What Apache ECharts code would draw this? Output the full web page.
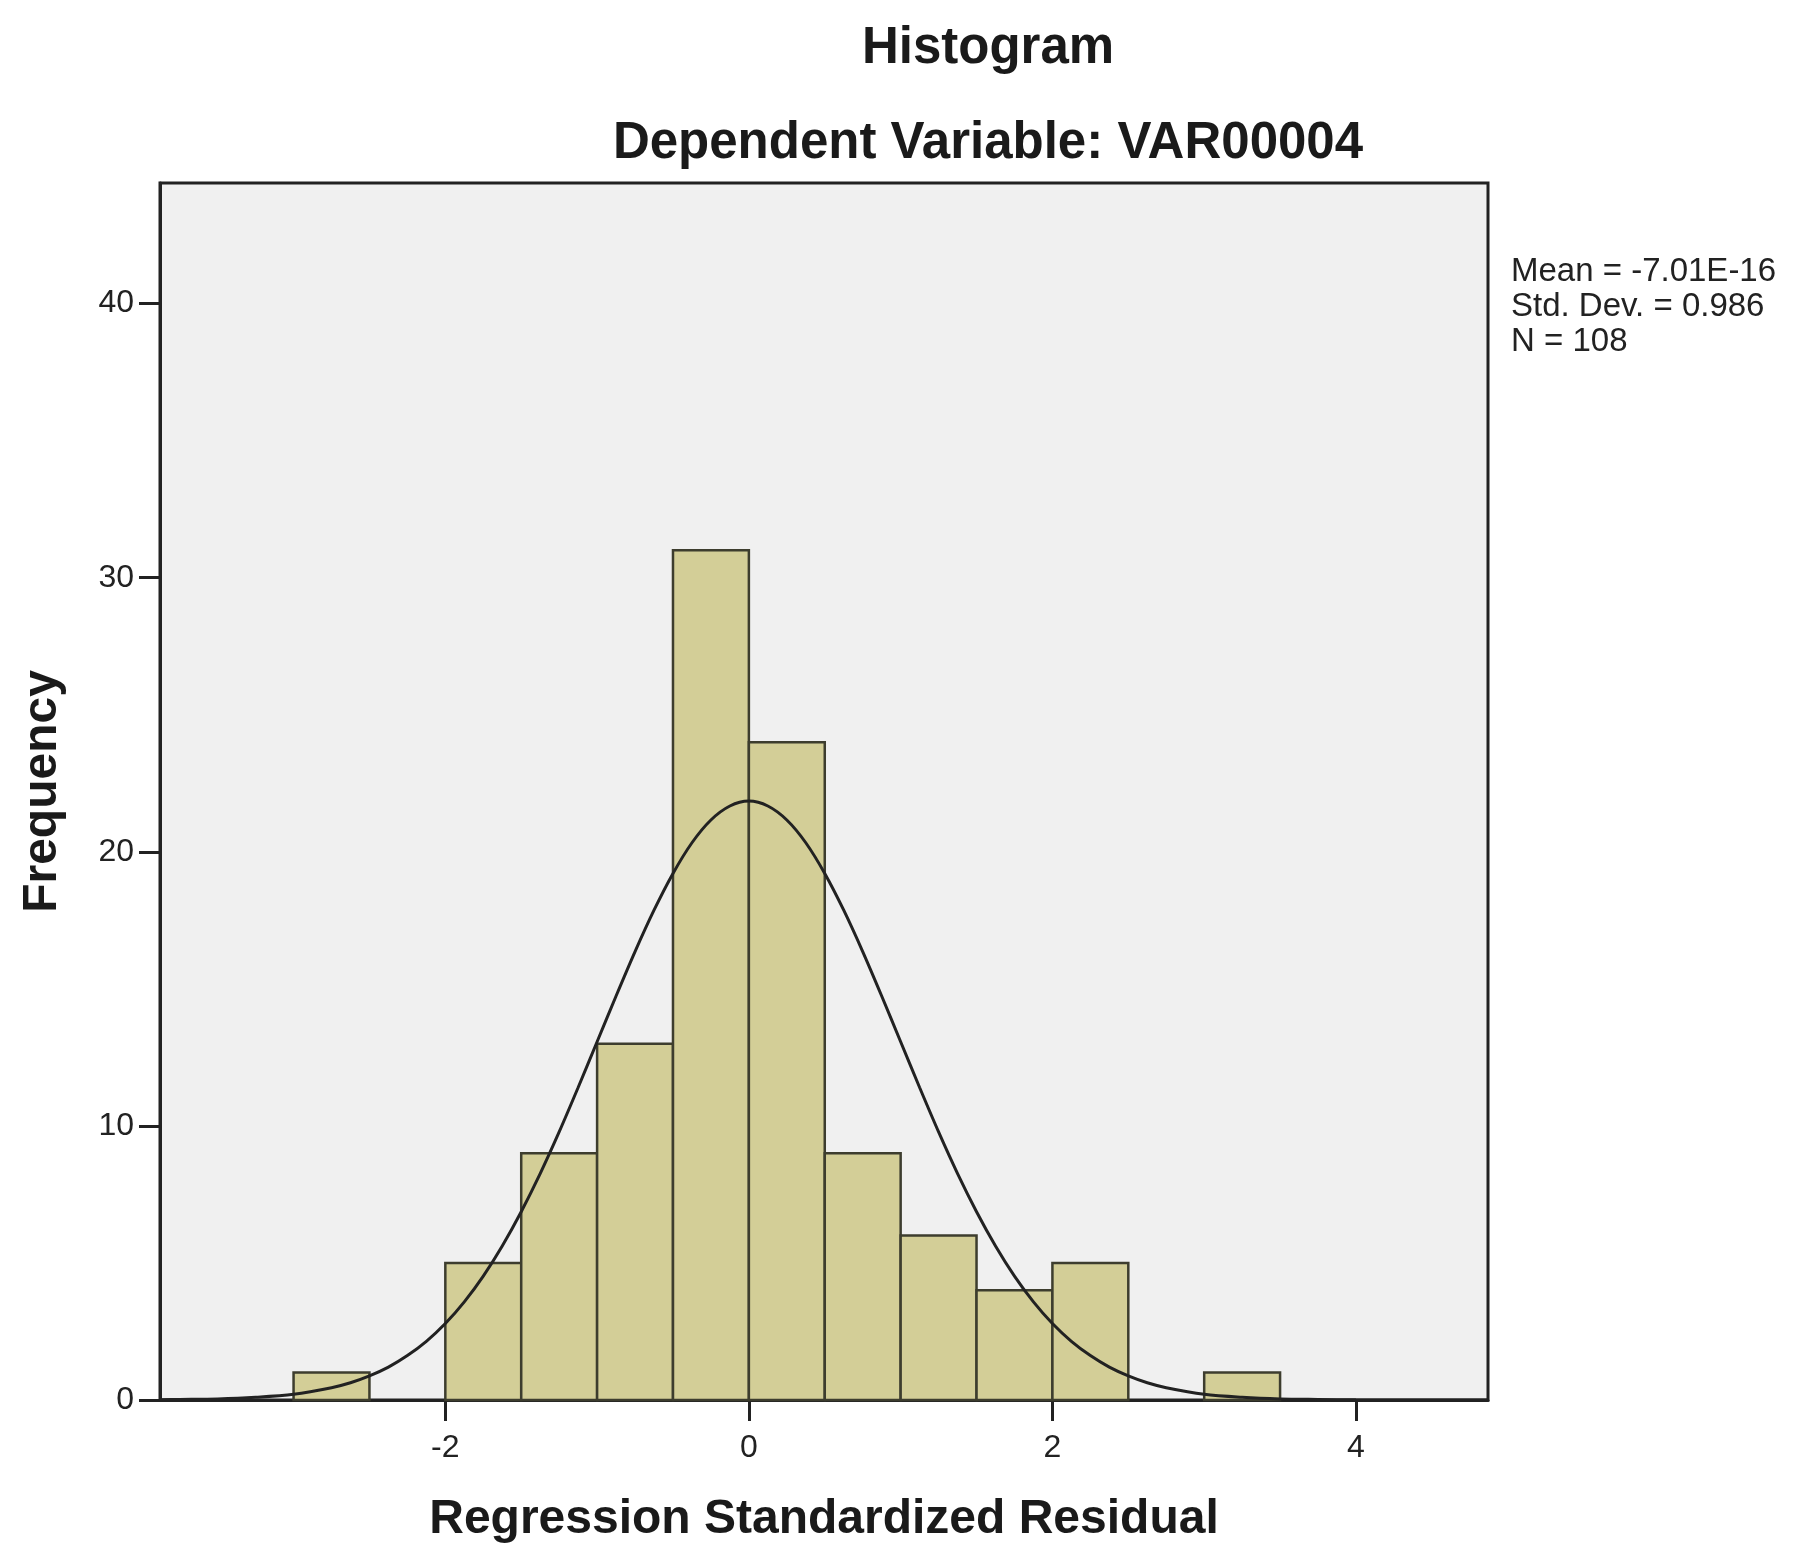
<!DOCTYPE html>
<html><head><meta charset="utf-8">
<script src="https://cdn.jsdelivr.net/npm/echarts@6/dist/echarts.min.js"></script>
<style>html,body{margin:0;padding:0;background:#fff}#c{width:1797px;height:1558px}</style>
</head><body><div id="c"></div>
<script>
// Histogram bins (bin width 0.5)
const binStart = [-3, -2.5, -2, -1.5, -1, -0.5, 0, 0.5, 1, 1.5, 2, 2.5, 3];
const binEnd   = [-2.5, -2, -1.5, -1, -0.5, 0, 0.5, 1, 1.5, 2, 2.5, 3, 3.5];
const frequency = [1, 0, 5, 9, 13, 31, 24, 9, 6, 4, 5, 0, 1];
// Normal curve
const curveX = [-3.88, -3.75, -3.5, -3.25, -3, -2.75, -2.625, -2.5, -2.375, -2.25, -2.125, -2, -1.875, -1.75, -1.625, -1.5, -1.375,
                -1.25, -1.125, -1, -0.875, -0.75, -0.625, -0.5, -0.375, -0.25, -0.125, 0,
                0.125, 0.25, 0.375, 0.5, 0.625, 0.75, 0.875, 1, 1.125, 1.25, 1.375, 1.5, 1.625, 1.75, 1.875, 2,
                2.125, 2.25, 2.375, 2.5, 2.625, 2.75, 3, 3.25, 3.5, 3.75, 4, 4.25, 4.5, 4.75, 4.87];
const curveY = [0.01, 0.02, 0.04, 0.10, 0.21, 0.45, 0.63, 0.88, 1.20, 1.62, 2.14, 2.79, 3.58, 4.52, 5.62, 6.87, 8.26,
                9.78, 11.40, 13.07, 14.74, 16.36, 17.87, 19.21, 20.33, 21.16, 21.67, 21.85,
                21.67, 21.16, 20.33, 19.21, 17.87, 16.36, 14.74, 13.07, 11.40, 9.78, 8.26, 6.87, 5.62, 4.52, 3.58, 2.79,
                2.14, 1.62, 1.20, 0.88, 0.63, 0.45, 0.21, 0.10, 0.04, 0.02, 0.005, 0, 0, 0, 0];
const xTickValues = [-2, 0, 2, 4];
const yTickValues = [0, 10, 20, 30, 40];
const titleText = 'Histogram';
const subtitleText = 'Dependent Variable: VAR00004';
const statsLines = ['Mean = -7.01E-16', 'Std. Dev. = 0.986', 'N = 108'];

const chart = echarts.init(document.getElementById('c'));
const FONT = '"Liberation Sans", Arial, sans-serif';
const histData = binStart.map((s, i) => [s, binEnd[i], frequency[i]]);
const lineData = curveX.map((x, i) => [x, curveY[i]]);

chart.setOption({
  animation: false,
  backgroundColor: '#ffffff',
  textStyle: { fontFamily: FONT },
  title: [
    { text: titleText, left: 983, top: 18, textAlign: 'center',
      textStyle: { fontFamily: FONT, fontWeight: 'bold', fontSize: 51, color: '#1a1a1a' } },
    { text: subtitleText, left: 983, top: 113, textAlign: 'center',
      textStyle: { fontFamily: FONT, fontWeight: 'bold', fontSize: 51, color: '#1a1a1a' } }
  ],
  graphic: [{
    type: 'text', left: 1511, top: 254,
    style: { text: statsLines.join('\n'), font: '33px ' + FONT, fill: '#222', lineHeight: 35 }
  }],
  grid: { left: 160, top: 183, right: 309, bottom: 158, show: true,
          backgroundColor: '#f0f0f0', borderColor: '#222', borderWidth: 3 },
  xAxis: {
    type: 'value', min: -3.88, max: 4.87,
    name: 'Regression Standardized Residual', nameLocation: 'middle', nameGap: 96,
    nameTextStyle: { fontFamily: FONT, fontWeight: 'bold', fontSize: 48, color: '#1a1a1a' },
    axisLine: { show: true, onZero: false, lineStyle: { color: '#222', width: 3 } },
    axisTick: { show: true, length: 21, lineStyle: { color: '#222', width: 3 }, customValues: xTickValues },
    axisLabel: { fontSize: 32, color: '#222', margin: 32, customValues: xTickValues },
    splitLine: { show: false }
  },
  yAxis: {
    type: 'value', min: 0, max: 44.4,
    name: 'Frequency', nameLocation: 'middle', nameGap: 93, nameRotate: 90,
    nameTextStyle: { fontFamily: FONT, fontWeight: 'bold', fontSize: 48, color: '#1a1a1a' },
    axisLine: { show: true, onZero: false, lineStyle: { color: '#222', width: 3 } },
    axisTick: { show: true, length: 21, lineStyle: { color: '#222', width: 3 }, customValues: yTickValues },
    axisLabel: { fontSize: 32, color: '#222', margin: 26, customValues: yTickValues },
    splitLine: { show: false }
  },
  series: [
    {
      type: 'custom', data: histData, encode: { x: [0, 1], y: 2 }, z: 2,
      renderItem: function (params, api) {
        const v = api.value(2);
        if (!v) return null;
        const p0 = api.coord([api.value(0), v]);
        const p1 = api.coord([api.value(1), 0]);
        return { type: 'rect',
          shape: { x: p0[0], y: p0[1], width: p1[0] - p0[0], height: p1[1] - p0[1] },
          style: { fill: '#d3ce97', stroke: '#3d3d2e', lineWidth: 2.5 } };
      }
    },
    {
      type: 'line', data: lineData, smooth: 0.3, showSymbol: false, z: 3,
      lineStyle: { color: '#222', width: 3 }
    }
  ]
});
</script></body></html>
